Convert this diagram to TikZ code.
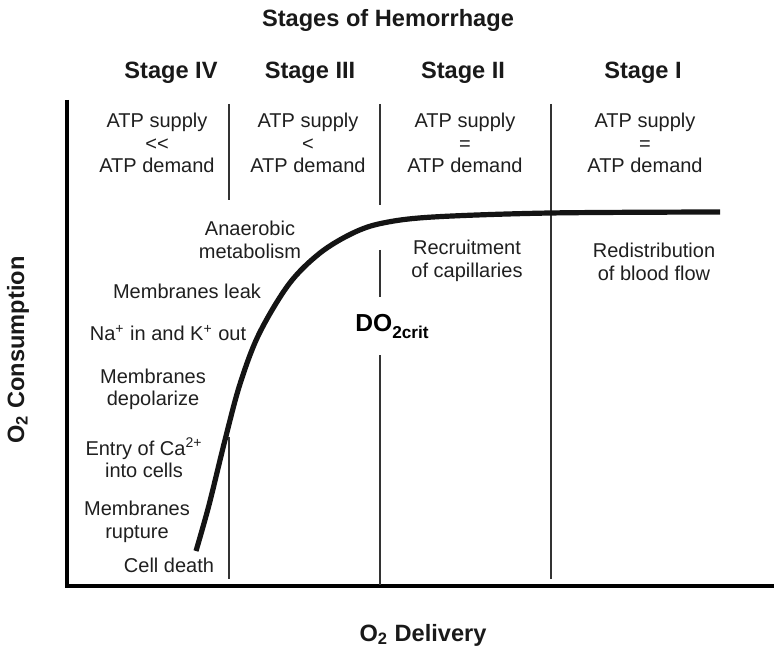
\documentclass[tikz,border=0pt]{standalone}
\usepackage{fontspec}
\setmainfont{Liberation Sans}
\begin{document}
\begin{tikzpicture}[x=0.5pt,y=-0.5pt,
  txt/.style={font=\fontsize{10}{11.3}\selectfont, align=center, inner sep=0pt, text=black!88},
  hdr/.style={font=\fontsize{11.8}{14}\selectfont\bfseries, inner sep=0pt, text=black!90},
  divider/.style={line width=0.75pt, black!80},
  axisline/.style={line width=2pt, line join=miter},
  curveline/.style={line width=2.6pt, black!92}]
\useasboundingbox (0,0) rectangle (774,651);

% title and stage headers
\node[hdr] (title) at (388,20) {Stages of Hemorrhage};
\node[hdr] (s4) at (171,73) {Stage IV};
\node[hdr] (s3) at (310,73) {Stage III};
\node[hdr] (s2) at (463,73) {Stage II};
\node[hdr] (s1) at (643,73) {Stage I};

% axes
\coordinate (ytop) at (67,100);
\coordinate (orig) at (67,586);
\coordinate (xend) at (774,586);
\draw[axisline] (ytop) -- (orig) -- (xend);

% dividers
\coordinate (a1) at (229,104); \coordinate (a2) at (229,200);
\coordinate (a3) at (229,437); \coordinate (a4) at (229,579);
\draw[divider] (a1) -- (a2);
\draw[divider] (a3) -- (a4);
\coordinate (b1) at (380,104); \coordinate (b2) at (380,205);
\coordinate (b3) at (380,250); \coordinate (b4) at (380,297);
\coordinate (b5) at (380,355); \coordinate (b6) at (380,585);
\draw[divider] (b1) -- (b2);
\draw[divider] (b3) -- (b4);
\draw[divider] (b5) -- (b6);
\coordinate (c1) at (551,104); \coordinate (c2) at (551,579);
\draw[divider] (c1) -- (c2);

% ATP texts
\node[txt] (atp4) at (157,143) {ATP supply\\{<}{<}\\ATP demand};
\node[txt] (atp3) at (308,143) {ATP supply\\{<}\\ATP demand};
\node[txt] (atp2) at (465,143) {ATP supply\\=\\ATP demand};
\node[txt] (atp1) at (645,143) {ATP supply\\=\\ATP demand};

% curve
\draw[curveline] plot[smooth, tension=0.55] coordinates {
  (196,551) (209,505) (225,440) (240,384) (259,334) (289,284) (320,253)
  (353,233) (383,223) (433,217) (550,213) (720,212)};

% left-side events
\node[txt] (anaer) at (250,240) {Anaerobic\\metabolism};
\node[txt] (leak) at (187,291) {Membranes leak};
\node[txt] (nak) at (168,333) {Na\textsuperscript{+} in and K\textsuperscript{+} out};
\node[txt] (depol) at (153,389.5) {Membranes\\depolarize};
\node[txt] (ca) at (144,458) {Entry of Ca\textsuperscript{2+}\\into cells};
\node[txt] (rupt) at (137,522) {Membranes\\rupture};
\node[txt] (death) at (169,565) {Cell death};

% right-side events
\node[txt] (recr) at (467,261) {Recruitment\\of capillaries};
\node[txt] (redis) at (654,262) {Redistribution\\of blood flow};

% critical delivery
\node[inner sep=0pt, anchor=base west, font=\fontsize{12.3}{14}\selectfont\bfseries] (docrit) at (355,332) {DO\textsubscript{\raisebox{-0.15em}{2crit}}};

% axis labels
\node[hdr, rotate=90] (ylab) at (18,350) {O\textsubscript{2} Consumption};
\node[hdr] (xlab) at (423,635) {O\textsubscript{2} Delivery};
\end{tikzpicture}
\end{document}
